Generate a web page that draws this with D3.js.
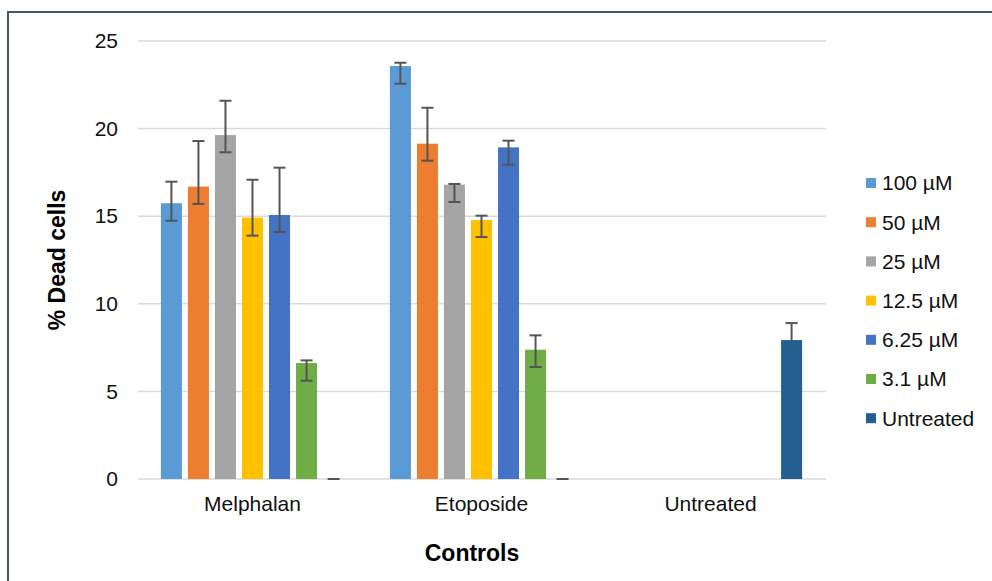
<!DOCTYPE html>
<html>
<head>
<meta charset="utf-8">
<script src="https://cdn.jsdelivr.net/npm/d3@7"></script>
<style>
  html, body { margin: 0; padding: 0; background: #fff; }
  svg { display: block; font-family: "Liberation Sans", Arial, sans-serif; }
</style>
</head>
<body>
<svg id="chart" width="992" height="581"></svg>
<script>
// ---- data ----
const categories = ["Melphalan", "Etoposide", "Untreated"];
const seriesNames = ["100 µM", "50 µM", "25 µM", "12.5 µM", "6.25 µM", "3.1 µM", "Untreated"];
const seriesColors = ["#5B9BD5", "#ED7D31", "#A5A5A5", "#FFC000", "#4472C4", "#70AD47", "#255E91"];
// mean % dead cells per category (one value per series, null = no bar)
const melphalanMeans = [15.74, 16.69, 19.63, 14.92, 15.07, 6.62, 0];
const etoposideMeans = [23.57, 19.14, 16.80, 14.78, 18.93, 7.38, 0];
const untreatedMeans = [null, null, null, null, null, null, 7.93];
// error bar plus / minus amounts
const melphalanErrPlus = [1.23, 2.60, 1.96, 2.16, 2.70, 0.15, 0];
const melphalanErrMinus = [1.00, 0.99, 0.98, 1.03, 0.97, 1.01, 0];
const etoposideErrPlus = [0.19, 2.05, 0.04, 0.25, 0.38, 0.82, 0];
const etoposideErrMinus = [1.01, 0.97, 0.99, 0.97, 0.99, 0.99, 0];
const untreatedErrPlus = [null, null, null, null, null, null, 0.97];
const untreatedErrMinus = [null, null, null, null, null, null, 0];
const yTicks = [0, 5, 10, 15, 20, 25];
const yTitle = "% Dead cells";
const xTitle = "Controls";

const meansByCat = [melphalanMeans, etoposideMeans, untreatedMeans];
const plusByCat = [melphalanErrPlus, etoposideErrPlus, untreatedErrPlus];
const minusByCat = [melphalanErrMinus, etoposideErrMinus, untreatedErrMinus];

const rows = [];
categories.forEach((c, ci) => {
  seriesNames.forEach((s, si) => {
    rows.push({ cat: c, series: s, si, value: meansByCat[ci][si],
      plus: plusByCat[ci][si], minus: minusByCat[ci][si] });
  });
});

// ---- layout ----
const svg = d3.select("#chart");
const plotLeft = 138, plotRight = 825, plotTop = 41, plotBottom = 479;

// outer border
svg.append("rect").attr("x", 8).attr("y", 12).attr("width", 1000).attr("height", 600)
  .attr("fill", "none").attr("stroke", "#44546A").attr("stroke-width", 2);

const x0 = d3.scaleBand().domain(categories).range([plotLeft, plotRight]).paddingInner(0.2).paddingOuter(0.1);
const x1 = d3.scaleBand().domain(seriesNames).range([0, x0.bandwidth()]).paddingInner(0.222).paddingOuter(0);
const y = d3.scaleLinear().domain([0, 25]).range([plotBottom, plotTop]);
const color = d3.scaleOrdinal().domain(seriesNames).range(seriesColors);

// gridlines
svg.append("g").selectAll("line").data(yTicks).join("line")
  .attr("x1", plotLeft).attr("x2", plotRight + 1)
  .attr("y1", d => y(d)).attr("y2", d => y(d))
  .attr("stroke", "#D9D9D9").attr("stroke-width", 1.5);

// y axis labels
const yAxis = d3.axisLeft(y).tickValues(yTicks).tickSize(0).tickPadding(0);
const gy = svg.append("g").attr("transform", `translate(${plotLeft - 20},0)`).call(yAxis);
gy.select(".domain").remove();
gy.selectAll("text").attr("font-size", 21).attr("fill", "#111")
  .attr("font-family", "Liberation Sans, Arial, sans-serif");

// x axis labels
const xAxis = d3.axisBottom(x0).tickSize(0).tickPadding(0);
const gx = svg.append("g").attr("transform", `translate(0,${plotBottom + 17})`).call(xAxis);
gx.select(".domain").remove();
gx.selectAll("text").attr("font-size", 21).attr("fill", "#111")
  .attr("font-family", "Liberation Sans, Arial, sans-serif");

// bars
const barRows = rows.filter(d => d.value !== null);
svg.append("g").selectAll("rect").data(barRows.filter(d => d.value > 0)).join("rect")
  .attr("x", d => x0(d.cat) + x1(d.series))
  .attr("width", x1.bandwidth())
  .attr("y", d => y(d.value))
  .attr("height", d => y(0) - y(d.value))
  .attr("fill", d => color(d.series));

// error bars
const errG = svg.append("g").attr("stroke", "#555555").attr("stroke-width", 2).attr("fill", "none");
const capW = 6;
barRows.forEach(d => {
  const cx = x0(d.cat) + x1(d.series) + x1.bandwidth() / 2;
  const yHi = y(d.value + d.plus), yLo = y(d.value - d.minus);
  errG.append("line").attr("x1", cx).attr("x2", cx).attr("y1", yHi).attr("y2", yLo);
  errG.append("line").attr("x1", cx - capW).attr("x2", cx + capW).attr("y1", yHi).attr("y2", yHi);
  if (d.minus > 0) {
    errG.append("line").attr("x1", cx - capW).attr("x2", cx + capW).attr("y1", yLo).attr("y2", yLo);
  }
});

// axis titles
svg.append("text").attr("x", 472).attr("y", 561).attr("text-anchor", "middle")
  .attr("font-size", 23).attr("font-weight", "bold").attr("fill", "#000").text(xTitle);
svg.append("text").attr("transform", "translate(65,260) rotate(-90)").attr("text-anchor", "middle")
  .attr("font-size", 23).attr("font-weight", "bold").attr("fill", "#000").text(yTitle);

// legend
const legend = svg.append("g").attr("transform", "translate(866,183)");
const li = legend.selectAll("g").data(seriesNames).join("g")
  .attr("transform", (d, i) => `translate(0,${i * 39.2})`);
li.append("rect").attr("x", 0).attr("y", -5).attr("width", 10).attr("height", 10)
  .attr("fill", d => color(d));
li.append("text").attr("x", 16).attr("y", 0).attr("dy", "0.35em")
  .attr("font-size", 21).attr("fill", "#111").text(d => d);
</script>
</body>
</html>
